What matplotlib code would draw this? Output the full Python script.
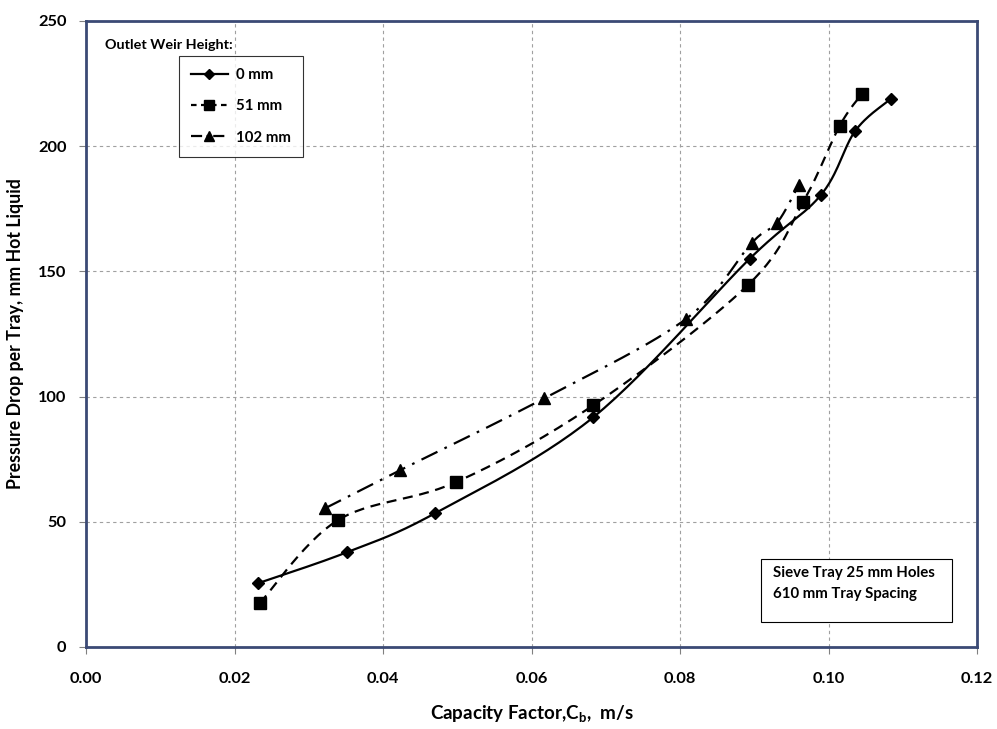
import numpy as np
import matplotlib
matplotlib.use("Agg")
import matplotlib.pyplot as plt
from matplotlib.patches import Rectangle
from matplotlib.lines import Line2D

# ---- data ----
x_0mm = [0.0232, 0.0352, 0.0470, 0.0683, 0.0894, 0.0990, 0.1036, 0.1084]
y_0mm = [25.5, 37.9, 53.4, 91.7, 155.1, 180.6, 206.1, 218.9]

x_51mm = [0.0234, 0.0339, 0.0498, 0.0683, 0.0892, 0.0966, 0.1015, 0.1045]
y_51mm = [17.5, 50.6, 65.8, 96.5, 144.7, 177.8, 208.1, 220.9]

x_102mm = [0.0322, 0.0423, 0.0617, 0.0808, 0.0897, 0.0931, 0.0960]
y_102mm = [55.4, 70.6, 99.3, 131.0, 161.5, 169.5, 184.6]

series_labels = ["0 mm", "51 mm", "102 mm"]
x_ticks = [0.00, 0.02, 0.04, 0.06, 0.08, 0.10, 0.12]
y_ticks = [0, 50, 100, 150, 200, 250]

plt.rcParams['font.family'] = ['Lato', 'DejaVu Sans']

W, H = 997, 729
fig = plt.figure(figsize=(W / 100, H / 100), dpi=100)
ax = fig.add_axes([86 / W, (729 - 647) / H, 891 / W, 626 / H])
ax.set_xlim(0, 0.12)
ax.set_ylim(0, 250)

XS, YS = 891 / 0.12, 626 / 250.0


def smooth(xs, ys, n=30, t=1 / 6):
    # Excel-like smoothed line: cubic Bezier with Catmull-Rom style control points
    P = np.column_stack([np.asarray(xs) * XS, np.asarray(ys) * YS])
    m = len(P)
    out = []
    for i in range(m - 1):
        p0 = P[i - 1] if i > 0 else P[i]
        p1 = P[i]
        p2 = P[i + 1]
        p3 = P[i + 2] if i + 2 < m else P[i + 1]
        c1 = p1 + (p2 - p0) * t
        c2 = p2 - (p3 - p1) * t
        s = np.linspace(0, 1, n)[:, None]
        seg = ((1 - s) ** 3) * p1 + 3 * ((1 - s) ** 2) * s * c1 + 3 * (1 - s) * s ** 2 * c2 + s ** 3 * p2
        out.append(seg if i == 0 else seg[1:])
    out = np.vstack(out)
    return out[:, 0] / XS, out[:, 1] / YS


lw = 1.6
sx, sy = smooth(x_0mm, y_0mm)
ax.plot(sx, sy, color='black', lw=lw, ls='-', zorder=3)
ax.plot(x_0mm, y_0mm, ls='none', marker='D', ms=6, color='black', zorder=4)

sx, sy = smooth(x_51mm, y_51mm)
ax.plot(sx, sy, color='black', lw=lw, ls=(0, (4.5, 3)), zorder=3)
ax.plot(x_51mm, y_51mm, ls='none', marker='s', ms=8.5, color='black', zorder=4)

sx, sy = smooth(x_102mm, y_102mm)
ax.plot(sx, sy, color='black', lw=lw, ls=(0, (8, 3.5, 1.2, 3.5)), zorder=3)
ax.plot(x_102mm, y_102mm, ls='none', marker='^', ms=8, color='black', zorder=4)

# grid & ticks
ax.set_xticks(x_ticks)
ax.set_yticks(y_ticks)
ax.set_xticklabels([f"{v:.2f}" for v in x_ticks], fontsize=11.8, fontweight='bold')
ax.set_yticklabels([str(v) for v in y_ticks], fontsize=11.8, fontweight='bold')
ax.grid(True, color='#a0a0a0', ls=(0, (3, 3)), lw=0.8)
ax.tick_params(axis='both', direction='out', length=5, width=0.8, color='#808080')
ax.tick_params(axis='x', pad=13)
ax.tick_params(axis='y', pad=9)
for sp in ax.spines.values():
    sp.set_color('#3b4a75')
    sp.set_linewidth(2)

ax.set_xlabel("Capacity Factor,C$_\\mathregular{b}$,  m/s", fontsize=13.5, fontweight='bold', labelpad=13)
ax.set_ylabel("Pressure Drop per Tray, mm Hot Liquid", fontsize=12.8, fontweight='bold', labelpad=10)

# legend
ax.text(0.021, 0.962, "Outlet Weir Height:", transform=ax.transAxes, fontsize=10.4,
        fontweight='bold', va='center', ha='left')
handles = [
    Line2D([], [], color='black', lw=lw, ls='-', marker='D', ms=5),
    Line2D([], [], color='black', lw=lw, ls=(0, (2.5, 2)), marker='s', ms=7),
    Line2D([], [], color='black', lw=lw, ls=(0, (5, 2, 1, 2)), marker='^', ms=7),
]
leg = ax.legend(handles, series_labels, loc='upper left', bbox_to_anchor=(0.104, 0.944),
                frameon=True, fancybox=False, edgecolor='black',
                handlelength=2.5, labelspacing=1.15, borderpad=0.8, handletextpad=0.55,
                borderaxespad=0, prop={'weight': 'bold', 'size': 10.8})
leg.get_frame().set_linewidth(0.8)

# annotation box
ax.add_patch(Rectangle((0.758, 0.040), 0.972 - 0.758, 0.141 - 0.040, transform=ax.transAxes,
                       facecolor='white', edgecolor='black', lw=0.8, zorder=5))
ax.text(0.771, 0.118, "Sieve Tray 25 mm Holes", transform=ax.transAxes,
        fontsize=10.8, fontweight='bold', va='center', ha='left', zorder=6)
ax.text(0.771, 0.085, "610 mm Tray Spacing", transform=ax.transAxes,
        fontsize=10.8, fontweight='bold', va='center', ha='left', zorder=6)

fig.savefig("out.png", dpi=100)
